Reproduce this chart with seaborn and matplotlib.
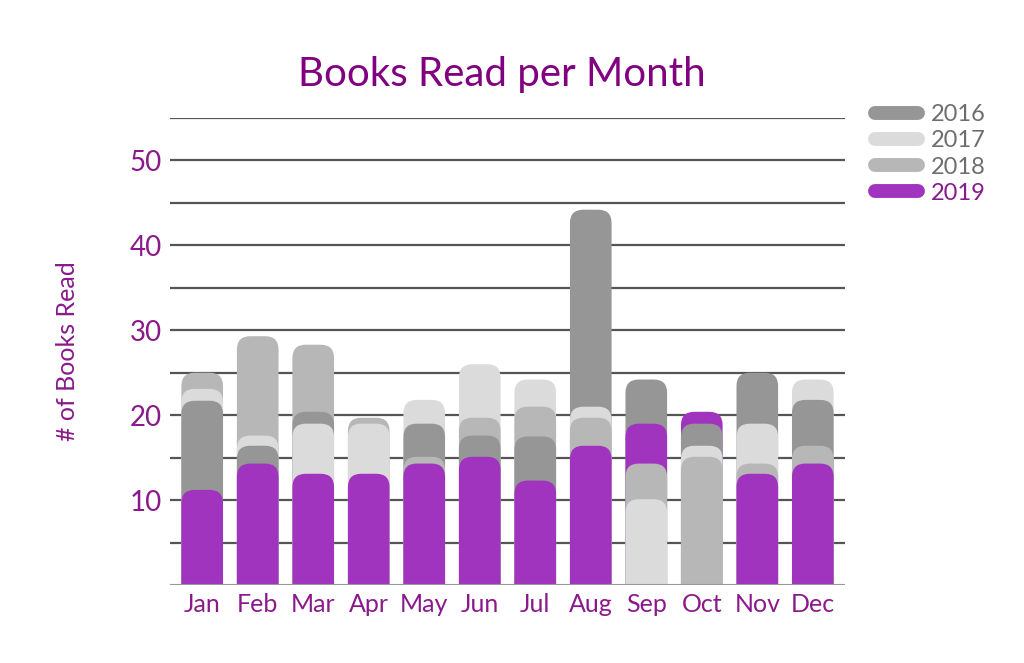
import numpy as np
import pandas as pd
import matplotlib
matplotlib.use("Agg")
import matplotlib.pyplot as plt
import seaborn as sns
from matplotlib.patches import FancyBboxPatch
from matplotlib.lines import Line2D

# values (bars overlap, they are not stacked)
months = ['Jan', 'Feb', 'Mar', 'Apr', 'May', 'Jun', 'Jul', 'Aug', 'Sep', 'Oct', 'Nov', 'Dec']
years = ['2016', '2017', '2018', '2019']
books_2016 = [21.7, 16.4, 20.4, 0, 19, 17.6, 17.5, 44.2, 24.2, 19, 25, 21.8]
books_2017 = [23.1, 17.6, 19, 19, 21.8, 26, 24.2, 21, 10.1, 16.4, 19, 24.2]
books_2018 = [25, 29.3, 28.3, 19.7, 15.1, 19.7, 21, 19.7, 14.3, 15.1, 14.3, 16.4]
books_2019 = [11.2, 14.3, 13.1, 13.1, 14.3, 15.1, 12.3, 16.4, 19, 20.4, 13.1, 14.3]

colors = {'2016': '#969696', '2017': '#dbdbdb', '2018': '#b7b7b7', '2019': '#a034bf'}
purple = '#8a1a8c'

df = pd.DataFrame({'Month': months * 4,
                   'Year': np.repeat(years, 12),
                   'Books': books_2016 + books_2017 + books_2018 + books_2019})

sns.set_style('white')
plt.rcParams['font.family'] = ['Lato', 'DejaVu Sans']

fig = plt.figure(figsize=(10.24, 6.63), dpi=100)
ax = fig.add_axes([170 / 1024, 1 - 585 / 663, 675 / 1024, 467 / 663])

# one seaborn bar layer per year, all sitting on the same x position
for yr in years:
    sub = df[df['Year'] == yr]
    sns.barplot(data=sub, x='Month', y='Books', color=colors[yr], width=0.75,
                saturation=1, ax=ax, order=months)

# swap the square bars for round-topped ones; shorter bars go in front
rects = [p for p in ax.patches]
for p in rects:
    x, w, h = p.get_x(), p.get_width(), p.get_height()
    fc = p.get_facecolor()
    p.remove()
    if h <= 0:
        continue
    rb = FancyBboxPatch((x, -3), w, h + 3,
                        boxstyle='round,pad=0,rounding_size=0.24',
                        mutation_aspect=6.5, facecolor=fc, edgecolor='none',
                        zorder=10 - h / 10)
    ax.add_patch(rb)

ax.set_xlim(-0.58, 11.58)
ax.set_ylim(0, 55)
for v in range(5, 60, 5):
    ax.axhline(v, color='#555555', lw=1.6, zorder=1)
ax.axhline(0, color='#999999', lw=1.5, zorder=20)

ax.set_yticks([10, 20, 30, 40, 50])
ax.tick_params(axis='y', length=0, pad=6, labelsize=20, labelcolor=purple)
ax.tick_params(axis='x', length=0, pad=6, labelsize=18, labelcolor=purple)
for s in ax.spines.values():
    s.set_visible(False)
ax.set_xlabel('')
ax.set_ylabel('# of Books Read', color=purple, fontsize=18, labelpad=36)

fig.suptitle('Books Read per Month', x=0.49, y=0.915, fontsize=29, color='#800080')

handles = [Line2D([0], [0], color=colors[yr], lw=10, solid_capstyle='round') for yr in years]
leg = fig.legend(handles, years, loc='upper left', bbox_to_anchor=(0.834, 0.875),
                 frameon=False, fontsize=17, handlelength=1.8, labelspacing=0.22,
                 handletextpad=0.55)
for t, yr in zip(leg.get_texts(), years):
    t.set_color(purple if yr == '2019' else '#6e6e6e')

fig.savefig('out.png', dpi=100)
